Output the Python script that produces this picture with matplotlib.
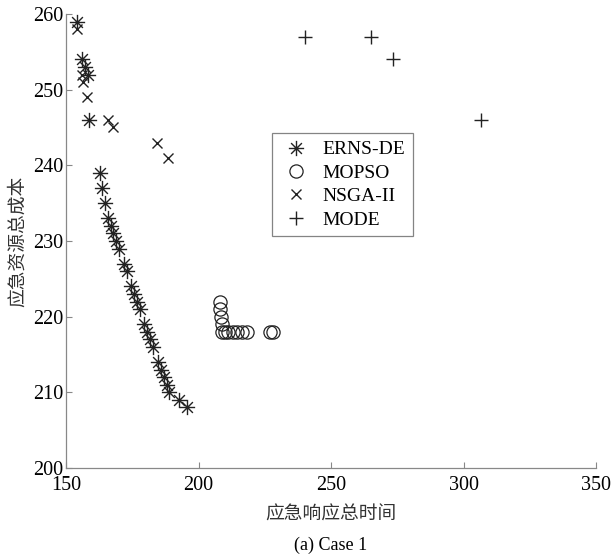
import matplotlib
matplotlib.use("Agg")
import matplotlib.pyplot as plt
from matplotlib.path import Path
import math

# ---- data ----
erns_x = [154, 156, 157, 158.2, 158.8, 162.8, 163.7, 164.7, 166, 166.9, 167.9, 168.9,
          169.9, 171.9, 172.9, 174.7, 175.8, 176.9, 177.9, 179.5, 180.7, 181.7, 182.7,
          184.6, 185.8, 186.9, 188, 189, 192.6, 195.8]
erns_y = [259, 254, 253, 252, 246, 239, 237, 235, 233, 232, 231, 230,
          229, 227, 226, 224, 223, 222, 221, 219, 218, 217, 216,
          214, 213, 212, 211, 210, 209, 208]

mopso_x = [208, 208, 208.3, 208.7, 208.8, 210, 211.2, 212.9, 214.4, 216.3, 218.2, 227, 228]
mopso_y = [222, 221, 220, 219, 218, 218, 218, 218, 218, 218, 218, 218, 218]

nsga_x = [154, 156, 156.5, 157.8, 166, 167.6, 184.5, 188.5]
nsga_y = [258, 252, 251, 249, 246, 245, 243, 241]

mode_x = [240, 265, 273.5, 306.5]
mode_y = [257, 257, 254, 246]

xticks = [150, 200, 250, 300, 350]
yticks = [200, 210, 220, 230, 240, 250, 260]

series_names = ["ERNS-DE", "MOPSO", "NSGA-II", "MODE"]
xlabel = "应急响应总时间"
ylabel = "应急资源总成本"
caption = "(a) Case 1"

# ---- style ----
serif = ["Liberation Serif", "DejaVu Serif"]
cjk = ["Noto Sans CJK SC", "DejaVu Sans"]
ink = "#222222"

# 8-spoke asterisk marker
ast_verts = []
ast_codes = []
for k in range(4):
    a = math.pi * k / 4
    dx, dy = math.cos(a), math.sin(a)
    ast_verts += [(-dx, -dy), (dx, dy)]
    ast_codes += [Path.MOVETO, Path.LINETO]
asterisk = Path(ast_verts, ast_codes)

fig = plt.figure(figsize=(6.13, 5.6), dpi=100)
ax = fig.add_axes([0.1077, 0.1643, 0.8646, 0.8107])

ax.plot(erns_x, erns_y, linestyle="none", marker=asterisk, markersize=11,
        markeredgecolor=ink, markeredgewidth=1.0, color=ink, label=series_names[0])
ax.plot(mopso_x, mopso_y, linestyle="none", marker="o", markersize=9.5,
        markerfacecolor="none", markeredgecolor=ink, markeredgewidth=0.9,
        label=series_names[1])
ax.plot(nsga_x, nsga_y, linestyle="none", marker="x", markersize=7.5,
        markeredgecolor=ink, markeredgewidth=1.0, label=series_names[2])
ax.plot(mode_x, mode_y, linestyle="none", marker="+", markersize=10,
        markeredgecolor=ink, markeredgewidth=1.0, label=series_names[3])

ax.set_xlim(150, 350)
ax.set_ylim(200, 260)
ax.set_xticks(xticks)
ax.set_yticks(yticks)
ax.set_xticklabels([str(v) for v in xticks], fontfamily=serif, fontsize=14.5)
ax.set_yticklabels([str(v) for v in yticks], fontfamily=serif, fontsize=14.5)
ax.tick_params(direction="in", length=4, width=0.8, color="#888888")
ax.tick_params(axis="x", pad=6)
ax.tick_params(axis="y", pad=2)

for s in ["top", "right"]:
    ax.spines[s].set_visible(False)
for s in ["left", "bottom"]:
    ax.spines[s].set_color("#888888")
    ax.spines[s].set_linewidth(0.9)

ax.set_xlabel(xlabel, fontfamily=cjk, fontsize=13.5, labelpad=6, color="#333333")
ax.set_ylabel(ylabel, fontfamily=cjk, fontsize=13.5, labelpad=4, color="#333333")

leg = ax.legend(loc="upper left", bbox_to_anchor=(0.389, 0.738), borderaxespad=0,
                prop={"family": serif, "size": 14}, frameon=True, fancybox=False,
                edgecolor="#666666", handletextpad=0.6, borderpad=0.4,
                labelspacing=0.3, handlelength=1.6)
leg.get_frame().set_linewidth(0.9)

fig.text(0.54, 0.027, caption, ha="center", va="center",
         fontfamily=serif, fontsize=13)

fig.savefig("out.png", dpi=100)
